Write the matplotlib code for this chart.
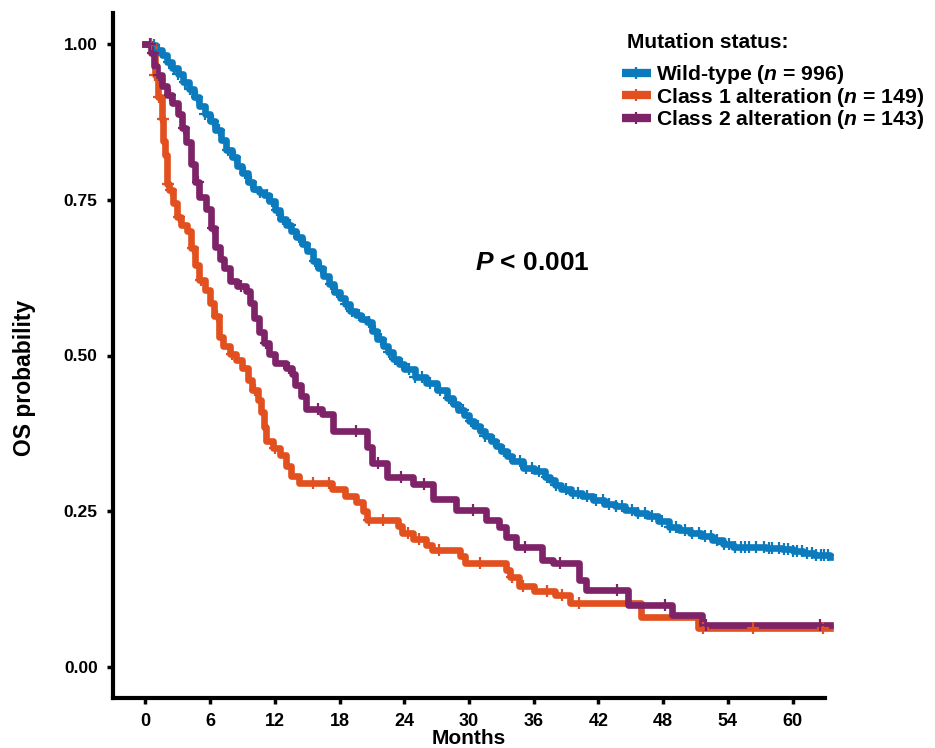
import numpy as np
import matplotlib
matplotlib.use("Agg")
import matplotlib.pyplot as plt
from matplotlib.lines import Line2D

# Kaplan-Meier step curves (months, survival probability)
wt_t = [0.0, 0.5, 1.0, 1.5, 2.0, 2.5, 3.0, 3.5, 4.0, 4.5, 5.0, 5.5, 6.0, 6.5, 7.0, 7.5, 8.0, 8.5,
        9.0, 9.5, 10.0, 10.5, 11.0, 11.5, 12.0, 12.5, 13.0, 13.5, 14.0, 14.5, 15.0, 15.5, 16.0,
        16.5, 17.0, 17.5, 18.0, 18.5, 19.0, 19.5, 20.0, 20.5, 21.0, 21.5, 22.0, 22.5, 23.0, 23.5,
        24.0, 25.0, 26.0, 27.0, 28.0, 28.5, 29.0, 29.5, 30.0, 30.5, 31.0, 31.5, 32.0, 32.5, 33.0,
        33.5, 34.0, 35.0, 36.0, 37.0, 37.5, 38.0, 38.5, 39.5, 40.5, 41.5, 42.5, 43.5, 44.5, 45.5,
        46.5, 47.5, 48.5, 49.5, 50.5, 51.5, 52.5, 53.5, 54.5, 56.0, 57.5, 59.0, 60.0, 61.0, 62.0, 63.5]
wt_s = [1.000, 0.998, 0.990, 0.982, 0.972, 0.962, 0.952, 0.940, 0.928, 0.915, 0.900, 0.888, 0.876,
        0.862, 0.846, 0.830, 0.818, 0.804, 0.793, 0.778, 0.768, 0.763, 0.757, 0.748, 0.733, 0.720,
        0.710, 0.700, 0.690, 0.679, 0.668, 0.652, 0.640, 0.628, 0.615, 0.602, 0.592, 0.582, 0.572,
        0.565, 0.558, 0.553, 0.540, 0.527, 0.515, 0.505, 0.495, 0.486, 0.478, 0.466, 0.456, 0.445,
        0.431, 0.422, 0.413, 0.404, 0.395, 0.387, 0.378, 0.370, 0.362, 0.354, 0.346, 0.338, 0.330,
        0.320, 0.314, 0.305, 0.300, 0.292, 0.285, 0.280, 0.274, 0.268, 0.262, 0.258, 0.252, 0.247,
        0.242, 0.234, 0.225, 0.219, 0.215, 0.210, 0.203, 0.198, 0.193, 0.192, 0.191, 0.189, 0.186,
        0.183, 0.180, 0.176]
wt_cens = [0.8, 1.3, 2.2, 2.7, 3.0, 3.7, 4.1, 4.8, 5.5, 6.3, 6.8, 7.7, 8.3, 9.2, 9.8, 10.6, 11.3,
           11.7, 12.2, 12.8, 13.4, 14.2, 14.8, 15.7, 16.3, 17.2, 17.8, 18.6, 19.2, 19.8, 20.7,
           21.3, 21.8, 22.6, 23.1, 23.8, 24.4, 25.0, 25.6, 26.4, 27.3, 28.1, 28.8, 29.4, 30.2,
           30.8, 31.5, 32.3, 33.2, 33.8, 34.7, 35.3, 35.8, 36.5, 37.2, 38.1, 39.0, 39.6, 40.1,
           40.9, 41.8, 42.4, 43.0, 43.6, 44.2, 45.1, 45.7, 46.3, 47.0, 47.9, 48.6, 49.2, 50.0,
           50.7, 51.3, 51.9, 52.4, 53.0, 53.6, 54.1, 54.7, 55.2, 55.6, 56.0, 56.6, 57.3, 57.8,
           58.1, 58.7, 59.2, 59.6, 60.0, 60.4, 60.9, 61.3, 61.8, 62.2, 62.6, 62.9, 63.3]

c1_t = [0.0, 0.6, 0.9, 1.2, 1.5, 1.65, 1.8, 2.0, 2.2, 2.6, 2.9, 3.3, 3.9, 4.2, 4.6, 5.0, 5.5, 6.0,
        6.4, 6.8, 7.2, 7.8, 8.4, 9.0, 9.5, 9.9, 10.4, 10.7, 11.0, 11.2, 11.8, 12.5, 13.0, 13.5,
        14.2, 17.3, 18.5, 19.5, 20.2, 20.5, 23.4, 23.8, 24.8, 26.0, 26.6, 29.2, 29.6, 33.4, 33.8,
        34.6, 36.0, 38.0, 39.4, 45.9, 51.2, 63.5]
c1_s = [1.000, 0.993, 0.950, 0.915, 0.880, 0.845, 0.822, 0.775, 0.765, 0.745, 0.722, 0.710, 0.700,
        0.672, 0.645, 0.622, 0.605, 0.585, 0.563, 0.530, 0.515, 0.503, 0.492, 0.480, 0.460, 0.444,
        0.428, 0.410, 0.385, 0.362, 0.352, 0.340, 0.322, 0.306, 0.296, 0.285, 0.275, 0.265, 0.250,
        0.236, 0.226, 0.215, 0.205, 0.195, 0.188, 0.178, 0.167, 0.155, 0.144, 0.130, 0.122, 0.115,
        0.103, 0.080, 0.063, 0.063]
c1_cens = [0.5, 0.9, 1.3, 1.6, 2.1, 2.4, 3.1, 4.4, 5.2, 6.6, 8.0, 10.2, 12.0, 15.5, 17.0, 20.7,
           22.0, 24.3, 25.4, 27.2, 31.0, 34.0, 35.0, 37.2, 38.6, 40.2, 51.7, 56.3, 62.8]

c2_t = [0.0, 0.5, 0.8, 1.1, 1.5, 2.0, 2.5, 3.0, 3.4, 3.8, 4.2, 4.6, 5.0, 5.6, 6.1, 6.5, 6.9, 7.3,
        7.8, 8.5, 9.3, 9.7, 10.1, 10.5, 11.0, 11.5, 12.0, 13.0, 13.6, 13.9, 14.4, 14.9, 16.4, 17.4,
        20.5, 21.0, 22.4, 24.8, 26.7, 28.8, 31.6, 32.8, 33.4, 34.4, 36.8, 37.8, 40.2, 40.8, 44.7,
        48.8, 51.6, 63.5]
c2_s = [1.000, 0.985, 0.965, 0.950, 0.932, 0.918, 0.905, 0.888, 0.866, 0.843, 0.808, 0.778, 0.755,
        0.735, 0.705, 0.675, 0.655, 0.640, 0.620, 0.612, 0.604, 0.585, 0.560, 0.538, 0.520, 0.503,
        0.488, 0.480, 0.470, 0.452, 0.435, 0.414, 0.406, 0.378, 0.353, 0.328, 0.305, 0.293, 0.270,
        0.252, 0.236, 0.224, 0.209, 0.192, 0.172, 0.166, 0.140, 0.123, 0.099, 0.083, 0.067, 0.067]
c2_cens = [0.4, 0.7, 1.3, 2.3, 3.6, 4.9, 6.3, 8.9, 11.2, 13.3, 16.0, 19.5, 21.6, 23.7, 25.8,
           30.4, 35.2, 38.4, 43.7, 48.2, 52.0, 62.5]

labels = ['Wild-type ($\\mathit{n}$ = 996)',
          'Class 1 alteration ($\\mathit{n}$ = 149)',
          'Class 2 alteration ($\\mathit{n}$ = 143)']
colors = ['#0C7BBE', '#E2501F', '#7E2368']
x_ticks = [0, 6, 12, 18, 24, 30, 36, 42, 48, 54, 60]
y_ticks = [0.0, 0.25, 0.5, 0.75, 1.0]

plt.rcParams['font.family'] = ['Liberation Sans', 'DejaVu Sans']
plt.rcParams['mathtext.fontset'] = 'custom'
plt.rcParams['mathtext.it'] = 'Liberation Sans:italic:bold'
plt.rcParams['mathtext.rm'] = 'Liberation Sans:bold'
plt.rcParams['mathtext.bf'] = 'Liberation Sans:bold'

fig = plt.figure(figsize=(9.35, 7.48), dpi=100)
ax = fig.add_axes([113 / 935, 1 - 698 / 748, (825 - 113) / 935, (698 - 13) / 748])

groups = [(wt_t, wt_s, wt_cens), (c1_t, c1_s, c1_cens), (c2_t, c2_s, c2_cens)]
for (t, s, cens), col in zip(groups, colors):
    ax.step(t, s, where='post', color=col, lw=4.8, clip_on=False, zorder=3)
for (t, s, cens), col in zip(groups, colors):
    idx = np.searchsorted(t, cens, side='right') - 1
    ax.plot(cens, np.array(s)[idx], '+', color=col, ms=9, mew=1.6, clip_on=False, zorder=4)

ax.set_xlim(-3, 63)
ax.set_ylim(-0.05, 1.05)
ax.set_xticks(x_ticks)
ax.set_yticks(y_ticks)
ax.set_yticklabels([f'{v:.2f}' for v in y_ticks])
for side in ['top', 'right']:
    ax.spines[side].set_visible(False)
for side in ['left', 'bottom']:
    ax.spines[side].set_linewidth(3)
ax.tick_params(width=2.5, length=4, pad=7, colors='black')
for lab in ax.get_xticklabels():
    lab.set_fontsize(13)
    lab.set_fontweight('bold')
for lab in ax.get_yticklabels():
    lab.set_fontsize(12.5)
    lab.set_fontweight('bold')

ax.set_xlabel('Months', fontsize=15, fontweight='bold', labelpad=-1)
fig.text(25 / 935, 1 - 378 / 748, 'OS probability', rotation=90, fontsize=16.5,
         fontweight='bold', ha='center', va='center')

ax.text(35.9, 0.649, '$\\mathit{P}$ < 0.001', fontsize=19, fontweight='bold',
        ha='center', va='center')

# legend: title placed separately, entries packed tightly like the original
fig.text(627 / 935, 1 - 42 / 748, 'Mutation status:', fontsize=15, fontweight='bold',
         ha='left', va='center')
handles = [Line2D([], [], color=c, lw=6, marker='+', ms=9, mew=1.6, solid_capstyle='butt')
           for c in colors]
leg = ax.legend(handles, labels, loc='upper left',
                bbox_to_anchor=(622 / 935, 1 - 63 / 748), bbox_transform=fig.transFigure,
                frameon=False, prop={'size': 15.2, 'weight': 'bold'}, numpoints=1,
                handlelength=1.35, handletextpad=0.25, labelspacing=-0.02, borderpad=0,
                borderaxespad=0)

fig.savefig('out.png', dpi=100)
